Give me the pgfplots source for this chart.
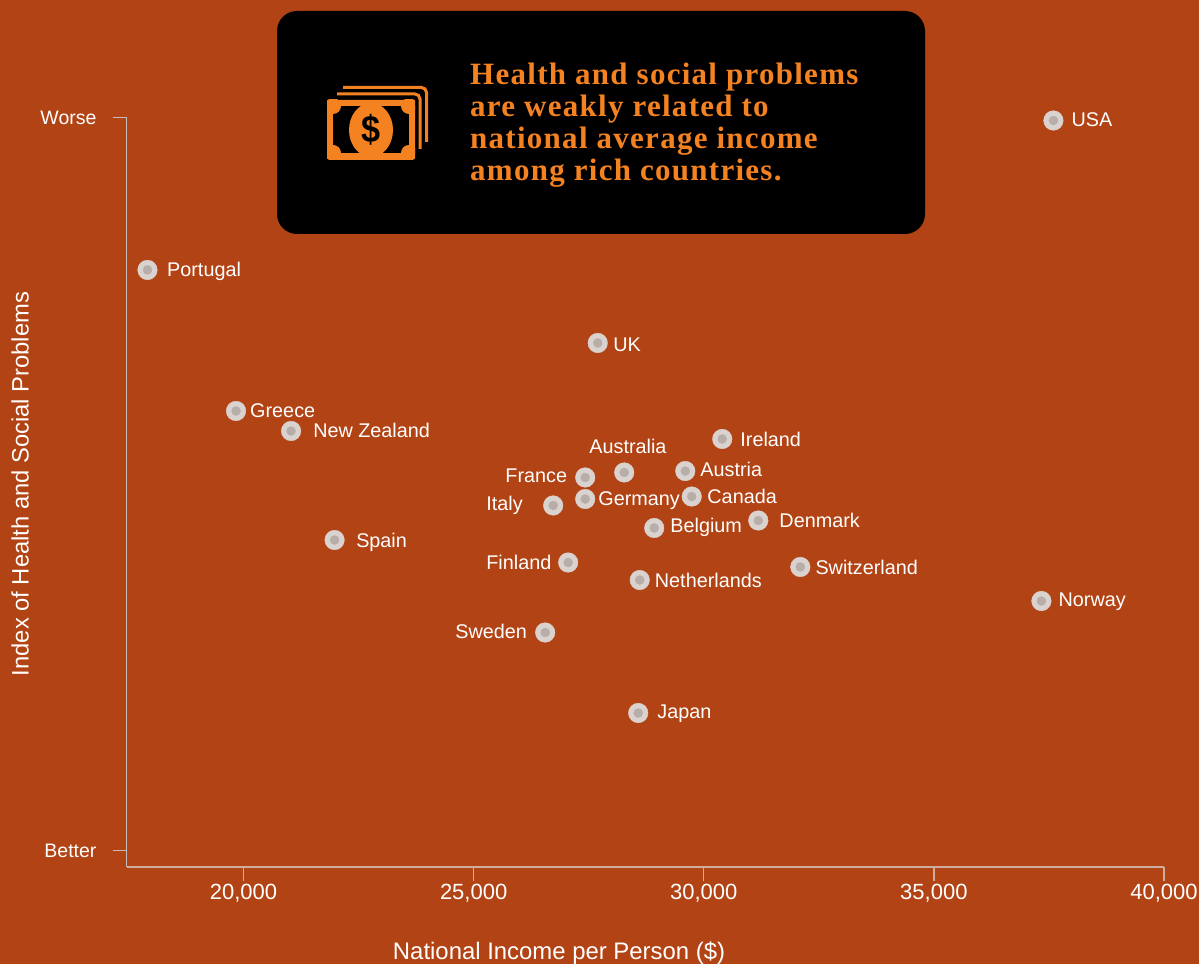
\documentclass[border=0pt]{standalone}
\usepackage{fontspec}
\usepackage{pgfplots}
\usepackage{pgfplotstable}
\pgfplotsset{compat=1.18}
\setmainfont{Liberation Sans}
\newfontfamily\titlefont[LetterSpace=4.1,Ligatures=NoCommon]{Liberation Serif}
\definecolor{bgc}{HTML}{B24314}
\definecolor{axc}{HTML}{C4BCB8}
\definecolor{axx}{HTML}{CDAE9E}
\definecolor{orc}{HTML}{F58220}
\definecolor{dotout}{HTML}{DAD2CE}
\definecolor{dotin}{HTML}{B8AEA9}
\pgfplotstableread{
x y
37598 99.59
17913 79.20
27696 69.24
19837 59.96
21033 57.23
30402 56.14
28272 51.57
29598 51.77
27424 50.89
27424 47.95
29739 48.29
26728 47.07
28924 44.00
31185 45.02
21978 42.36
27054 39.29
28609 36.90
32098 38.68
37337 34.04
26554 29.74
28576 18.76
}\countries
\newcommand{\lab}[5]{\node[anchor=base west,text=white,inner sep=0pt,font=\fontsize{19.8}{24}\selectfont] at (axis cs:#1,#2) [xshift=#3pt,yshift=#4pt] {#5};}
\begin{document}
\begin{tikzpicture}[x=1pt,y=1pt]
\path[use as bounding box] (0,0) rectangle (1199,964);
\fill[bgc] (0,0) rectangle (1199,964);
% callout
\fill[black,rounded corners=20pt] (277,964-11) rectangle (925,964-234);
\begin{scope}[shift={(0,964)},yscale=-1]
\draw[orc,line width=3pt,rounded corners=5pt] (343,87.5) -- (426.5,87.5) -- (426.5,142);
\draw[orc,line width=3pt,rounded corners=5pt] (337,94) -- (420,94) -- (420,149);
\fill[orc,rounded corners=6pt] (327,100) rectangle (415,160);
\begin{scope}
\clip (327,100) rectangle (415,160);
\fill[black] (333,106) rectangle (409,153);
\fill[orc] (333,106) circle[radius=8] (409,106) circle[radius=8] (333,153) circle[radius=8] (409,153) circle[radius=8];
\fill[orc] (371,130) ellipse[x radius=22,y radius=27];
\end{scope}
\end{scope}
\node[text=black,font=\bfseries\fontsize{38}{38}\selectfont,inner sep=0pt,xscale=0.9] at (371,964-129.5) {\$};
\begin{scope}[every node/.style={anchor=base west,inner sep=0pt,text=orc,font=\titlefont\bfseries\fontsize{31}{32}\selectfont}]
\node at (470,964-84.5) {Health and social problems};
\node at (470,964-116.5) {are weakly related to};
\node at (470,964-148.5) {national average income};
\node at (470,964-180.5) {among rich countries.};
\end{scope}
\begin{axis}[
  at={(126.5pt,97pt)},anchor=south west,
  scale only axis,width=1037.5pt,height=749.5pt,
  xmin=17457,xmax=40000,ymin=-2.25,ymax=100,
  clip=false,
  scaled x ticks=false,
  axis x line*=bottom,axis y line*=left,
  x axis line style={axx,line width=1.3pt,-},
  y axis line style={axc,line width=1.3pt,-},
  x tick style={axx,line width=1.3pt},
  y tick style={axc,line width=1.3pt},
  tick align=outside,
  major tick length=14pt,
  xtick={20000,25000,30000,35000,40000},
  xticklabels={{20,000},{25,000},{30,000},{35,000},{40,000}},
  ytick={0,100},yticklabels={Better,Worse},
  xticklabel style={text=white,font=\fontsize{22}{24}\selectfont,anchor=base,yshift=-18pt},
  yticklabel style={text=white,font=\fontsize{19.5}{24}\selectfont,xshift=-12.5pt},
  xlabel={National Income per Person (\$)},
  ylabel={Index of Health and Social Problems},
  xlabel style={text=white,font=\fontsize{23.9}{26}\selectfont,at={(rel axis cs:0.4169,-0.1240)},anchor=base},
  ylabel style={text=white,font=\fontsize{23.75}{26}\selectfont,at={(rel axis cs:-0.1025,0.511)},anchor=center},
]
\addplot[only marks,dotout,mark=*,mark size=9.8pt,mark options={fill=dotout,draw=dotout,line width=0.4pt}] table[x=x,y=y] {\countries};
\addplot[only marks,dotin,mark=*,mark size=4.5pt,mark options={fill=dotin,draw=dotin,line width=0.4pt}] table[x=x,y=y] {\countries};
\lab{37598}{99.59}{18}{-6.5}{USA}
\lab{17913}{79.20}{19.5}{-6.5}{Portugal}
\lab{27696}{69.24}{15.5}{-9}{UK}
\lab{19837}{59.96}{14}{-7}{Greece}
\lab{21033}{57.23}{22}{-6}{New Zealand}
\lab{30402}{56.14}{18}{-8}{Ireland}
\lab{28272}{51.57}{-35}{18.5}{Australia}
\lab{29598}{51.77}{15}{-5}{Austria}
\lab{27424}{50.89}{-80}{-5.5}{France}
\lab{27424}{47.95}{13}{-6}{Germany}
\lab{29739}{48.29}{15.5}{-6.5}{Canada}
\lab{26728}{47.07}{-67}{-5.5}{Italy}
\lab{28924}{44.00}{16}{-5}{Belgium}
\lab{31185}{45.02}{21}{-6.5}{Denmark}
\lab{21978}{42.36}{21.5}{-7}{Spain}
\lab{27054}{39.29}{-82}{-7}{Finland}
\lab{28609}{36.90}{15}{-7}{Netherlands}
\lab{32098}{38.68}{15}{-8}{Switzerland}
\lab{37337}{34.04}{17}{-6}{Norway}
\lab{26554}{29.74}{-90}{-5.5}{Sweden}
\lab{28576}{18.76}{19}{-6}{Japan}
\end{axis}
\end{tikzpicture}
\end{document}
